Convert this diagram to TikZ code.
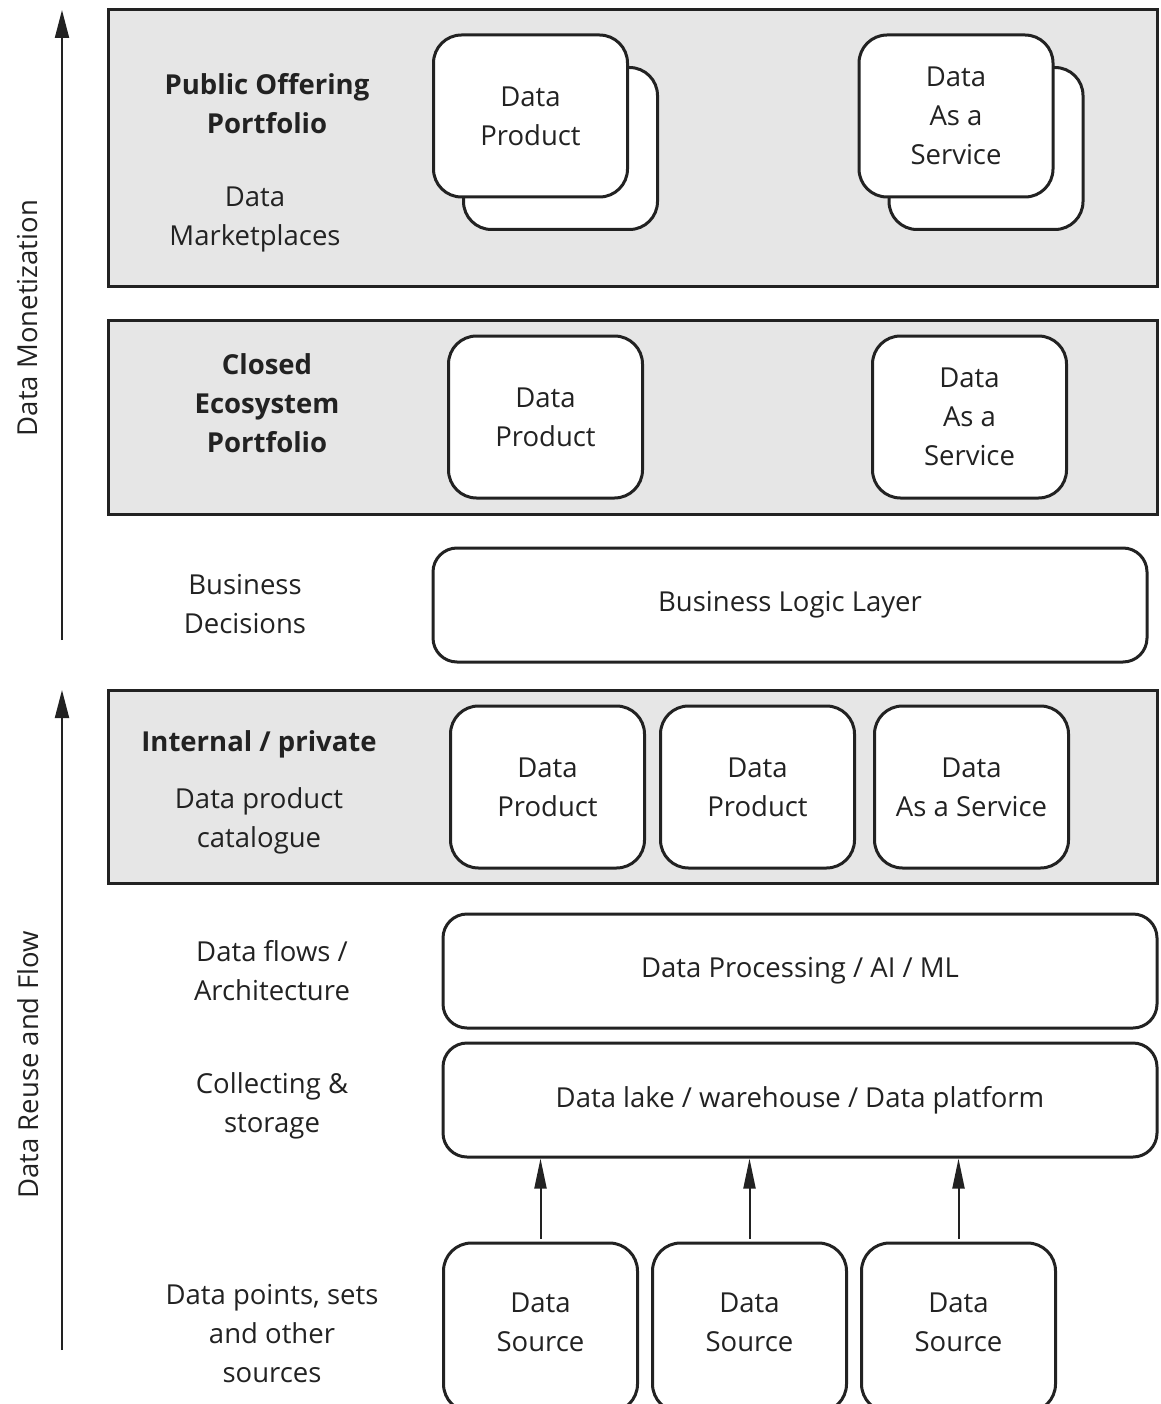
\documentclass[tikz,border=0pt]{standalone}
\usepackage{fontspec}
\setmainfont{Open Sans}
\usetikzlibrary{arrows.meta}
\definecolor{ink}{HTML}{222222}
\definecolor{panelgray}{HTML}{E6E6E6}
\begin{document}
\begin{tikzpicture}[x=1pt,y=-1pt,
  every node/.append style={font=\fontsize{27.5pt}{39pt}\selectfont, text=ink, align=center},
  panel/.style={draw=ink, line width=3pt, fill=panelgray, minimum width=1049pt, inner sep=0pt},
  card/.style={draw=ink, line width=3pt, fill=white, rounded corners=28pt,
    minimum width=194pt, minimum height=162pt, inner sep=0pt},
  layer/.style={draw=ink, line width=3pt, fill=white, rounded corners=24pt,
    minimum width=714pt, minimum height=114pt, inner sep=0pt},
  title/.style={font=\fontsize{27.5pt}{39pt}\selectfont\bfseries},
  bigarrow/.style={draw=ink, line width=2pt, -{Triangle[length=28pt,width=14pt]}},
  feed/.style={draw=ink, line width=2pt, -{Triangle[length=30pt,width=12pt]}, shorten <=3pt}
]
\useasboundingbox (0,0) rectangle (1160,1404);
\clip (0,0) rectangle (1160,1404);

% side axes
\coordinate (mon0) at (62,640);
\coordinate (mon1) at (62,10);
\coordinate (reu0) at (62,1350);
\coordinate (reu1) at (62,690);
\draw[bigarrow] (mon0) -- (mon1);
\draw[bigarrow] (reu0) -- (reu1);
\node[rotate=90] (monlab) at (28,318) {Data Monetization};
\node[rotate=90] (reulab) at (28,1065) {Data Reuse and Flow};

% public offering portfolio
\node[panel, minimum height=277pt] (pub) at (632.5,148.5) {};
\node[title] (pubtitle) at (267,103.5) {Public Offering\\Portfolio};
\node (market) at (255,219.5) {Data\\Marketplaces};
\node[card] (dp1back) at (560.5,148.5) {};
\node[card] (dp1) at (530.5,116) {Data\\Product};
\node[card] (daas1back) at (986,148.5) {};
\node[card] (daas1) at (956,116) {Data\\As a\\Service};

% closed ecosystem portfolio
\node[panel, minimum height=194pt] (closed) at (632.5,417) {};
\node[title] (closedtitle) at (267,403) {Closed\\Ecosystem\\Portfolio};
\node[card] (dp2) at (545.5,417) {Data\\Product};
\node[card] (daas2) at (969.5,417) {Data\\As a\\Service};

% business layer
\node (bizdec) at (245,604.5) {Business\\Decisions};
\node[layer, minimum width=714pt] (bll) at (790,605) {Business Logic Layer};

% internal / private
\node[panel, minimum height=193pt] (internal) at (632.5,786.5) {};
\node[title] (inttitle) at (259,744) {Internal / private};
\node (catalogue) at (259,821) {Data product\\catalogue};
\node[card] (dp3a) at (547.5,787) {Data\\Product};
\node[card] (dp3b) at (757.5,787) {Data\\Product};
\node[card] (daas3) at (971.5,787) {Data\\As a Service};

% processing and storage
\node (flows) at (272,970.5) {Data flows /\\Architecture};
\node[layer] (proc) at (800,971) {Data Processing / AI / ML};
\node (collect) at (272,1105.5) {Collecting \&\\storage};
\node[layer] (lake) at (800,1100) {Data lake / warehouse / Data platform};

% sources
\node (points) at (272,1334) {Data points, sets\\and other\\sources};
\foreach \n/\x in {src1/540.5, src2/749.5, src3/958.5}{
  \node[card, minimum height=169pt] (\n) at (\x,1327.5) {};
  \node (\n txt) at ([yshift=5pt]\n.center) {Data\\Source};
  \draw[feed] (\n.north) -- (\n.north |- lake.south);
}
\end{tikzpicture}
\end{document}
